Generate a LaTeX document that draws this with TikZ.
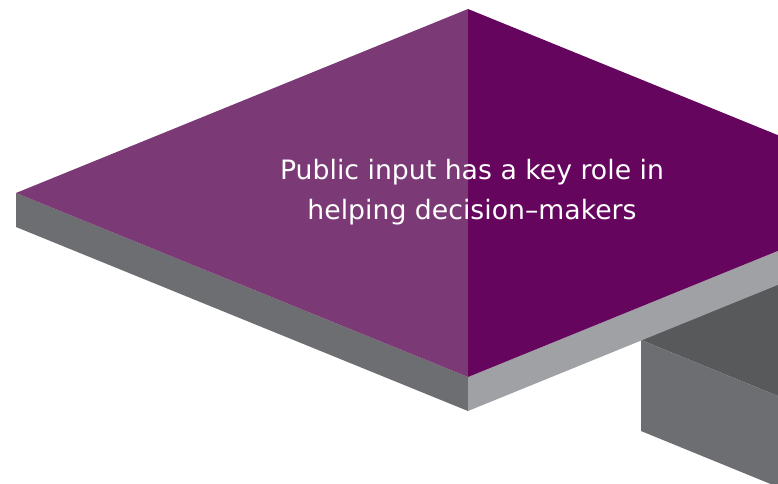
\documentclass[tikz,border=0pt]{standalone}
\usepackage{fontspec}
\setmainfont{DejaVu Sans}
\definecolor{topL}{RGB}{123,58,118}
\definecolor{topR}{RGB}{101,5,94}
\definecolor{sideL}{RGB}{109,110,113}
\definecolor{sideR}{RGB}{160,161,165}
\definecolor{darkF}{RGB}{88,89,91}
\definecolor{blockF}{RGB}{109,110,113}
\tikzset{label/.style={text=white, align=center, font=\fontsize{26.7}{40}\selectfont, inner sep=0pt}}
\begin{document}
\begin{tikzpicture}[x=1pt,y=-1pt]
\useasboundingbox (0,0) rectangle (778,483);
\clip (0,0) rectangle (778,483);
% lower block
\fill[darkF] (641,340) -- (800,405) -- (800,260) -- cycle;
\fill[blockF] (641,340) -- (800,405) -- (800,496) -- (641,431) -- cycle;
% slab sides
\fill[sideL] (16,193) -- (468,377) -- (468,411) -- (16,227) -- cycle;
\fill[sideR] (468,377) -- (920,193) -- (920,227) -- (468,411) -- cycle;
% slab top
\fill[topL] (468,9) -- (16,193) -- (468,377) -- cycle;
\fill[topR] (468,9) -- (920,193) -- (468,377) -- cycle;
\node[label] (t) at (472,192) {Public input has a key role in\\helping decision–makers};
\end{tikzpicture}
\end{document}
